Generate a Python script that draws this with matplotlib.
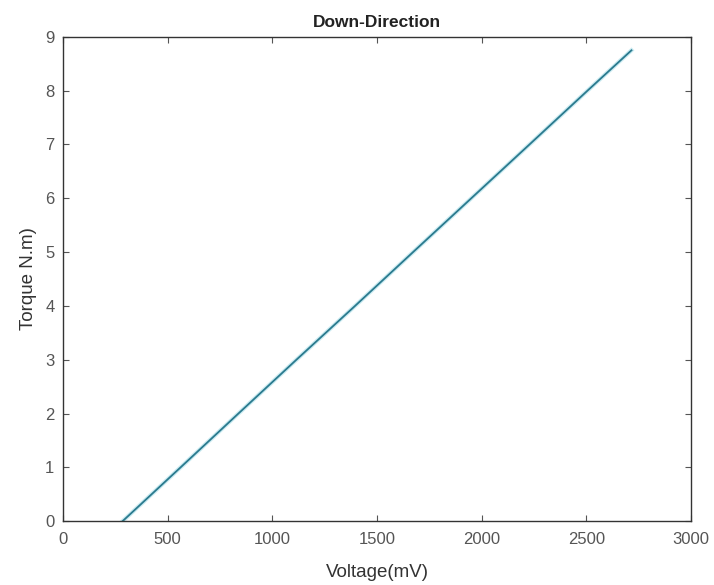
import matplotlib
matplotlib.use('Agg')
import matplotlib.pyplot as plt
import numpy as np

plt.rcParams['font.family'] = ['Liberation Sans', 'DejaVu Sans']

# data
voltage = [285, 562, 838, 1115, 1395, 1672, 1950, 2228, 2505, 2715]
torque = [0.0, 1.0, 2.0, 3.0, 4.0, 5.0, 6.0, 7.0, 8.0, 8.75]

xticks = [0, 500, 1000, 1500, 2000, 2500, 3000]
yticks = [0, 1, 2, 3, 4, 5, 6, 7, 8, 9]

fig = plt.figure(figsize=(7.14, 5.85), dpi=100)
ax = fig.add_axes([0.088, 0.109, 0.880, 0.828])

# light halo under the main trace
ax.plot(voltage, torque, color='#a6dde8', linewidth=3.0, alpha=0.6)
ax.plot(voltage, torque, color='#2a7a8e', linewidth=1.3)

ax.set_xlim(0, 3000)
ax.set_ylim(0, 9)
ax.set_xticks(xticks)
ax.set_yticks(yticks)
ax.tick_params(direction='in', top=True, right=True, length=4,
               labelsize=12, colors='#555555', labelcolor='#555555')
ax.tick_params(axis='x', pad=8)
ax.tick_params(axis='y', pad=6)
for s in ax.spines.values():
    s.set_color('#333333')
    s.set_linewidth(1.0)

ax.set_xlabel('Voltage(mV)', fontsize=13.5, color='#333333', labelpad=12)
ax.set_ylabel('Torque N.m)', fontsize=13.5, color='#333333', labelpad=6)
ax.set_title('Down-Direction', fontsize=12.5, fontweight='bold', color='#222222', pad=7)

fig.savefig('out.png', dpi=100)
